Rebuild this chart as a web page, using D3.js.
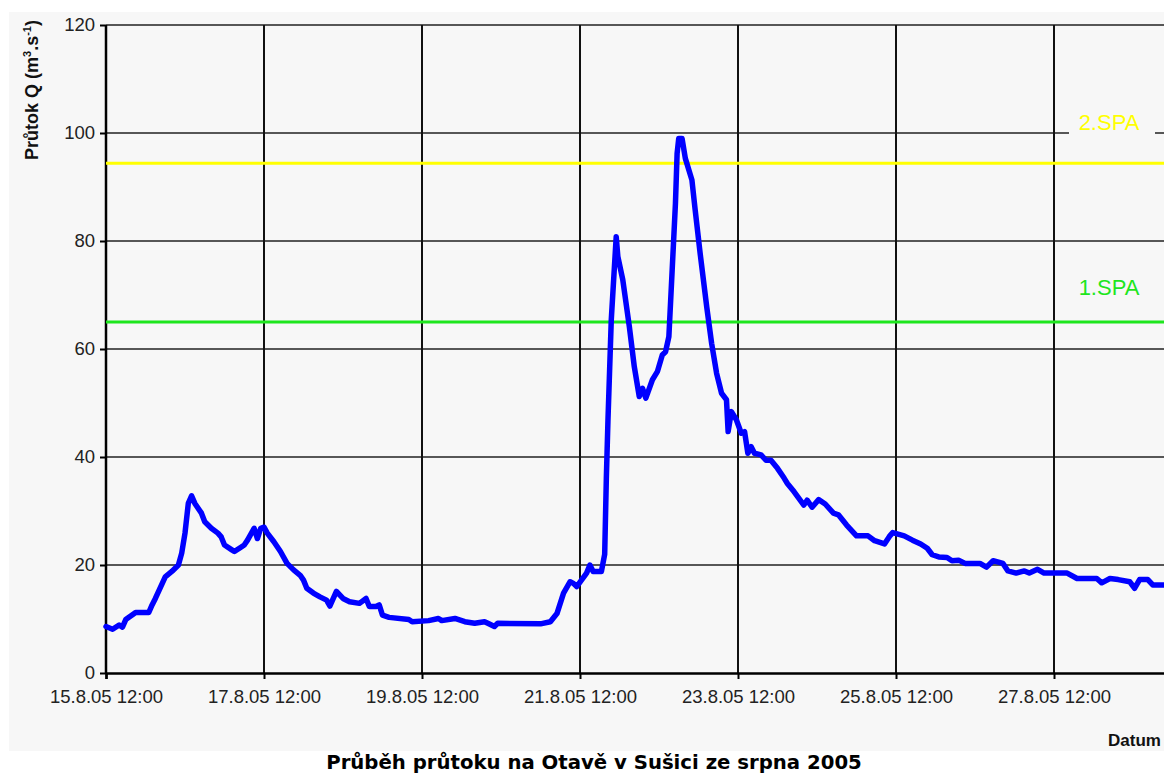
<!DOCTYPE html>
<html>
<head>
<meta charset="utf-8">
<script src="https://cdn.jsdelivr.net/npm/d3@7"></script>
<style>
  body { margin: 0; background: #fff; }
  svg { display: block; }
</style>
</head>
<body>
<svg id="chart" width="1164" height="775"></svg>
<script>

// Flow of the Otava at Sušice, August 2005
const times = [
  "15.8.05 12:00","15.8.05 14:00","15.8.05 16:00","15.8.05 17:00","15.8.05 18:00","15.8.05 21:00",
  "16.8.05 01:00","16.8.05 02:00","16.8.05 03:00","16.8.05 06:00","16.8.05 08:00","16.8.05 10:00",
  "16.8.05 11:00","16.8.05 12:00","16.8.05 13:00","16.8.05 14:00","16.8.05 15:00","16.8.05 17:00",
  "16.8.05 18:00","16.8.05 20:00","16.8.05 22:00","16.8.05 23:00",
  "17.8.05 00:00","17.8.05 02:00","17.8.05 03:00","17.8.05 05:00","17.8.05 06:00","17.8.05 07:00",
  "17.8.05 09:00","17.8.05 10:00","17.8.05 11:00","17.8.05 12:00","17.8.05 13:00","17.8.05 15:00",
  "17.8.05 17:00","17.8.05 19:00","17.8.05 21:00","17.8.05 23:00",
  "18.8.05 00:00","18.8.05 01:00","18.8.05 03:00","18.8.05 05:00","18.8.05 07:00","18.8.05 08:00",
  "18.8.05 10:00","18.8.05 12:00","18.8.05 14:00","18.8.05 17:00","18.8.05 19:00","18.8.05 20:00",
  "18.8.05 22:00","18.8.05 23:00",
  "19.8.05 00:00","19.8.05 02:00","19.8.05 08:00","19.8.05 09:00","19.8.05 14:00","19.8.05 17:00",
  "19.8.05 18:00","19.8.05 22:00",
  "20.8.05 01:00","20.8.05 04:00","20.8.05 07:00","20.8.05 08:00","20.8.05 10:00","20.8.05 11:00",
  "21.8.05 00:00","21.8.05 03:00","21.8.05 05:00","21.8.05 07:00","21.8.05 09:00","21.8.05 10:00",
  "21.8.05 11:00","21.8.05 14:00","21.8.05 15:00","21.8.05 16:00","21.8.05 18:30","21.8.05 19:30",
  "21.8.05 20:00","21.8.05 20:30","21.8.05 21:30","21.8.05 23:00","21.8.05 23:30",
  "22.8.05 01:00","22.8.05 03:00","22.8.05 04:30","22.8.05 06:00","22.8.05 07:00","22.8.05 08:00",
  "22.8.05 10:00","22.8.05 11:30","22.8.05 13:00","22.8.05 14:00","22.8.05 15:00","22.8.05 16:00",
  "22.8.05 17:00","22.8.05 17:30","22.8.05 18:00","22.8.05 19:00","22.8.05 20:00","22.8.05 22:00",
  "22.8.05 23:00",
  "23.8.05 00:30","23.8.05 02:30","23.8.05 04:00","23.8.05 05:30","23.8.05 07:00","23.8.05 08:30",
  "23.8.05 09:00","23.8.05 10:00","23.8.05 11:30","23.8.05 13:00","23.8.05 14:00","23.8.05 15:00",
  "23.8.05 16:00","23.8.05 17:00","23.8.05 19:00","23.8.05 20:30","23.8.05 22:00",
  "24.8.05 00:00","24.8.05 02:00","24.8.05 03:00","24.8.05 05:00","24.8.05 08:00","24.8.05 09:00",
  "24.8.05 10:30","24.8.05 12:30","24.8.05 14:30","24.8.05 17:00","24.8.05 18:30","24.8.05 21:00",
  "25.8.05 00:00","25.8.05 03:30","25.8.05 05:30","25.8.05 08:30","25.8.05 10:00","25.8.05 11:00",
  "25.8.05 14:30","25.8.05 17:00","25.8.05 19:30","25.8.05 21:30","25.8.05 23:00",
  "26.8.05 01:00","26.8.05 03:30","26.8.05 05:00","26.8.05 07:00","26.8.05 09:00","26.8.05 13:30",
  "26.8.05 15:30","26.8.05 17:30","26.8.05 20:30","26.8.05 22:00",
  "27.8.05 00:30","27.8.05 03:00","27.8.05 04:30","27.8.05 07:00","27.8.05 09:00","27.8.05 16:00",
  "27.8.05 19:00",
  "28.8.05 01:00","28.8.05 02:30","28.8.05 05:00","28.8.05 07:30","28.8.05 11:00","28.8.05 12:30",
  "28.8.05 14:00","28.8.05 16:30","28.8.05 18:00","28.8.05 21:30"
];

const flows = [
  8.6, 8.1, 8.9, 8.5, 9.9, 11.2,
  11.2, 12.6, 13.8, 17.8, 18.8, 20,
  22.2, 25.9, 31.4, 32.8, 31.4, 29.6,
  28, 26.8, 25.9, 25.2,
  23.7, 22.9, 22.5, 23.3, 23.7, 24.6,
  26.8, 24.9, 26.8, 27, 25.9, 24.3,
  22.5, 20.3, 19.1, 18.1,
  17.2, 15.7, 14.8, 14.1, 13.5, 12.4,
  15.1, 13.8, 13.2, 12.9, 13.8, 12.3,
  12.3, 12.6,
  10.7, 10.3, 9.9, 9.5, 9.7, 10.1,
  9.7, 10.1,
  9.5, 9.2, 9.5, 9.2, 8.6, 9.2,
  9.1, 9.5, 11, 14.8, 16.9, 16.6,
  16, 18.5, 20, 18.8, 18.8, 22,
  36, 46.9, 65.4, 80.8, 77.1,
  72.8, 64.1, 56.7, 51.2, 52.7, 50.9,
  54.3, 55.8, 58.9, 59.5, 62.3, 74.6,
  87, 96.2, 99, 99, 95.3, 91.3,
  85.7,
  77.7, 67.8, 61, 55.5, 51.8, 50.6,
  44.7, 48.4, 46.9, 44.4, 44.7, 40.7,
  41.9, 40.7, 40.4, 39.4, 39.4,
  37.9, 36.1, 35.1, 33.6, 31.1, 32,
  30.7, 32.1, 31.3, 29.6, 29.3, 27.4,
  25.4, 25.4, 24.5, 23.9, 25.3, 26,
  25.4, 24.6, 23.9, 23.1, 21.9,
  21.5, 21.4, 20.8, 20.9, 20.3, 20.3,
  19.6, 20.8, 20.3, 18.9,
  18.5, 18.9, 18.5, 19.2, 18.5, 18.5,
  17.5,
  17.5, 16.7, 17.5, 17.3, 16.9, 15.7,
  17.3, 17.3, 16.3, 16.3
];

// Axis ticks (the 29.8. tick falls past the cropped right edge)
const yTicks = [0, 20, 40, 60, 80, 100, 120];
const xTickLabels = ["15.8.05 12:00", "17.8.05 12:00", "19.8.05 12:00", "21.8.05 12:00",
                     "23.8.05 12:00", "25.8.05 12:00", "27.8.05 12:00"];
const xEnd = "29.8.05 12:00";

// Flood warning levels (stupně povodňové aktivity)
const spaNames = ["1.SPA", "2.SPA"];
const spaLevels = [65, 94.4];
const spaColors = ["#1ee61e", "#ffff00"];

const parseTime = d3.timeParse("%d.%m.%y %H:%M");
const formatTime = d3.timeFormat("%-d.%-m.%y %H:%M");

const svg = d3.select("#chart");
const W = 1164, H = 775;
const labelFont = "'Liberation Sans', Arial, sans-serif";

// plot frame (runs past the right edge, picture is cropped there)
const plotL = 106, plotT = 25, plotB = 673, plotR = 1212;

const x = d3.scaleTime()
  .domain([parseTime(xTickLabels[0]), parseTime(xEnd)])
  .range([plotL, plotR]);
const y = d3.scaleLinear().domain([0, 120]).range([plotB, plotT]);

const data = times.map((t, i) => ({ t: parseTime(t), v: flows[i] }));

// Light grey panel
svg.append("rect")
  .attr("x", 9).attr("y", 12)
  .attr("width", W).attr("height", 739)
  .attr("fill", "#f7f7f7");

// Grid
svg.append("g")
  .selectAll("line")
  .data(yTicks.filter(d => d > 0))
  .join("line")
  .attr("x1", plotL).attr("x2", plotR)
  .attr("y1", d => y(d)).attr("y2", d => y(d))
  .attr("stroke", "#222").attr("stroke-width", 1.5);

svg.append("g")
  .selectAll("line")
  .data(xTickLabels.slice(1).map(parseTime))
  .join("line")
  .attr("x1", d => x(d)).attr("x2", d => x(d))
  .attr("y1", plotT).attr("y2", plotB)
  .attr("stroke", "#111").attr("stroke-width", 2);

// Axes
const yAxis = svg.append("g")
  .attr("transform", `translate(${plotL},0)`)
  .call(d3.axisLeft(y).tickValues(yTicks).tickSize(6).tickPadding(5));

const xAxis = svg.append("g")
  .attr("transform", `translate(0,${plotB})`)
  .call(d3.axisBottom(x).tickValues(xTickLabels.map(parseTime)).tickSize(6).tickPadding(11)
    .tickFormat(formatTime));

[yAxis, xAxis].forEach(a => {
  a.select(".domain").attr("stroke", "#000").attr("stroke-width", 2.5);
  a.selectAll(".tick line").attr("stroke", "#000").attr("stroke-width", 2);
  a.selectAll(".tick text")
    .attr("fill", "#222")
    .style("font-family", labelFont)
    .style("font-size", "18.5px");
});
yAxis.select(".domain").attr("d", `M0,${plotT}V${plotB}`);

// SPA lines
svg.append("g")
  .selectAll("line")
  .data(spaLevels)
  .join("line")
  .attr("x1", plotL).attr("x2", plotR)
  .attr("y1", d => y(d)).attr("y2", d => y(d))
  .attr("stroke", (d, i) => spaColors[i]).attr("stroke-width", 3);

// SPA labels (2.SPA sits on a panel-coloured box over the grid line)
const spaLabelY = [y(71.1), y(101.6)];
spaNames.forEach((name, i) => {
  if (i === 1) {
    svg.append("rect")
      .attr("x", 1069).attr("y", spaLabelY[i] - 16)
      .attr("width", 86).attr("height", 30)
      .attr("fill", "#f7f7f7");
  }
  svg.append("text")
    .attr("x", 1109).attr("y", spaLabelY[i])
    .attr("text-anchor", "middle")
    .attr("dominant-baseline", "middle")
    .attr("fill", spaColors[i])
    .style("font-family", labelFont)
    .style("font-size", "22px")
    .text(name);
});

// Flow line
const line = d3.line()
  .x(d => x(d.t))
  .y(d => y(d.v));

svg.append("path")
  .datum(data)
  .attr("fill", "none")
  .attr("stroke", "#0000ff")
  .attr("stroke-width", 5.5)
  .attr("stroke-linejoin", "round")
  .attr("stroke-linecap", "round")
  .attr("d", line);

// Axis titles
const yTitle = svg.append("text")
  .attr("transform", `translate(38,${90}) rotate(-90)`)
  .attr("text-anchor", "middle")
  .style("font-family", labelFont)
  .style("font-weight", "bold")
  .style("font-size", "18px")
  .attr("fill", "#111");
yTitle.append("tspan").text("Průtok Q (m");
yTitle.append("tspan").attr("dy", -7).style("font-size", "11px").text("3");
yTitle.append("tspan").attr("dy", 7).text(".s");
yTitle.append("tspan").attr("dy", -7).style("font-size", "11px").text("-1");
yTitle.append("tspan").attr("dy", 7).text(")");

svg.append("text")
  .attr("x", 1108).attr("y", 746)
  .style("font-family", labelFont)
  .style("font-weight", "bold")
  .style("font-size", "17px")
  .attr("fill", "#111")
  .text("Datum");

svg.append("text")
  .attr("x", 594).attr("y", 769)
  .attr("text-anchor", "middle")
  .style("font-family", "'DejaVu Sans', Verdana, sans-serif")
  .style("font-weight", "bold")
  .style("font-size", "19.7px")
  .attr("fill", "#000")
  .text("Průběh průtoku na Otavě v Sušici ze srpna 2005");

</script>
</body>
</html>
